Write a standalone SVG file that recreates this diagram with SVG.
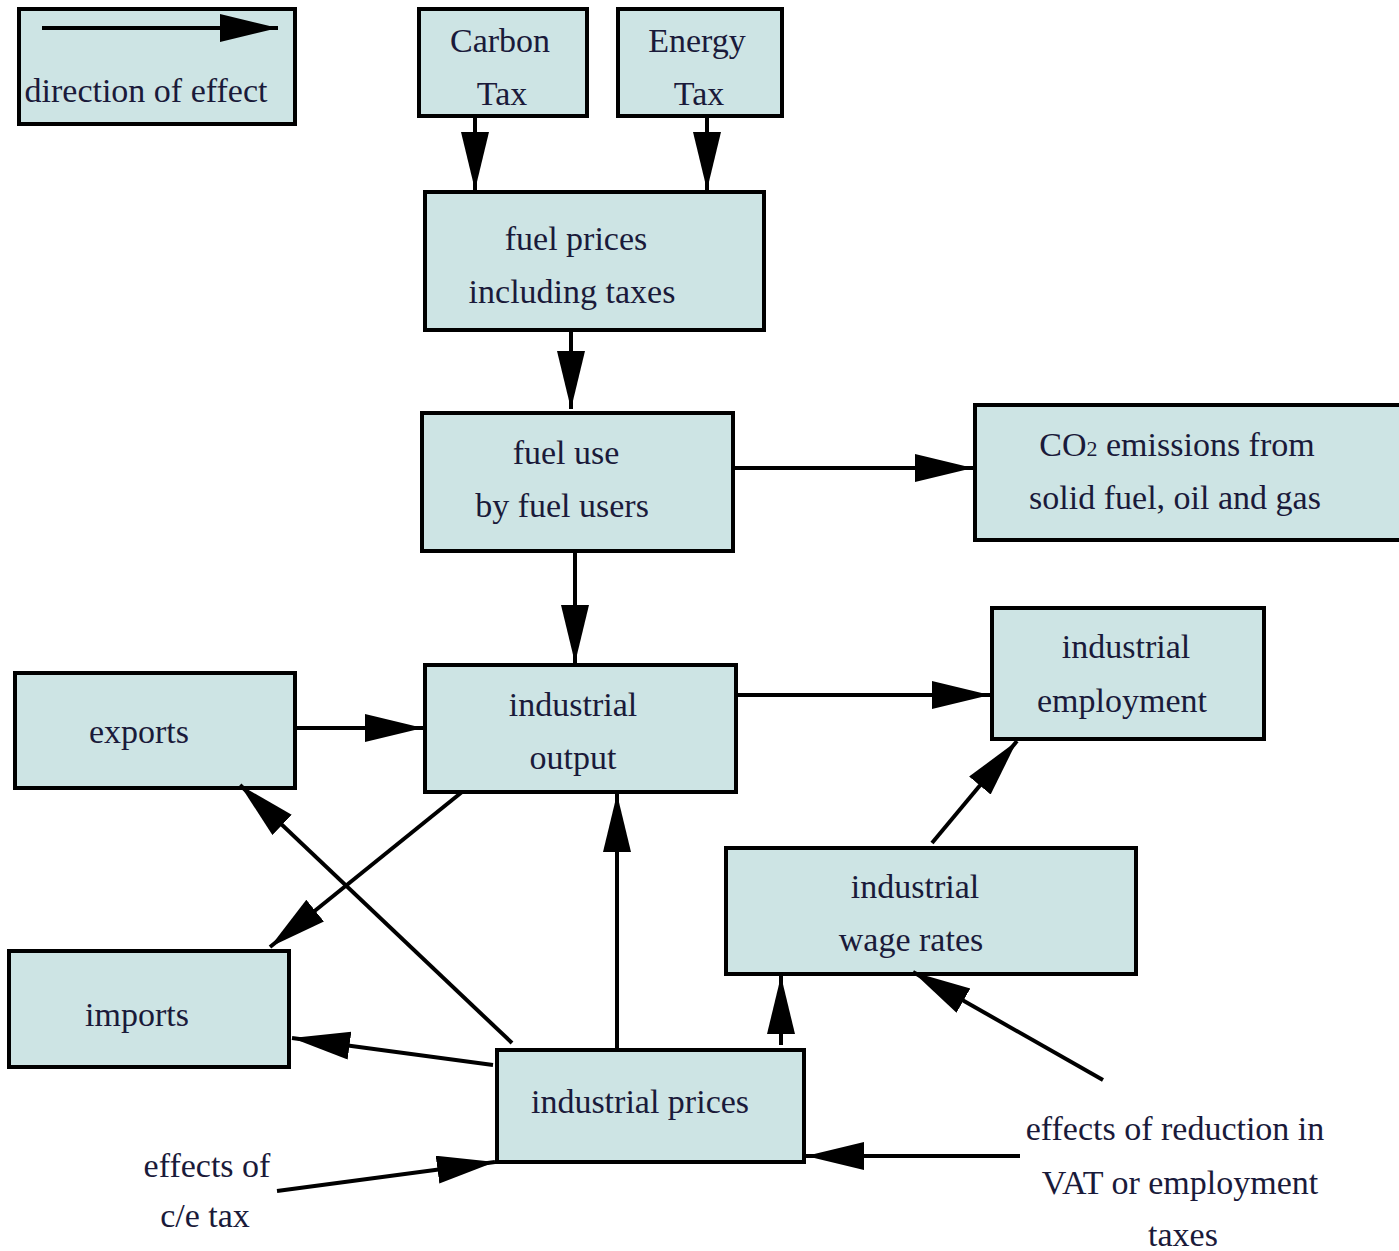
<svg xmlns="http://www.w3.org/2000/svg" width="1399" height="1251" viewBox="0 0 1399 1251">
<defs>
<style>
.box{fill:#cde4e4;stroke:#000;stroke-width:4}
.t{font-family:"Liberation Serif","Times New Roman",serif;font-size:34px;fill:#1a1a3a;text-anchor:middle}
.c{fill:none;stroke:#000;stroke-width:4;marker-end:url(#ah)}
</style>
<marker id="ah" markerUnits="userSpaceOnUse" markerWidth="60" markerHeight="30" refX="58" refY="14" orient="auto">
<path d="M0,0 L58,14 L0,28 Z" fill="#000"/>
</marker>
</defs>
<rect width="1399" height="1251" fill="#fff"/>
<g id="legend">
<rect class="box" x="19" y="9" width="276" height="115"/>
<line x1="42" y1="28" x2="278" y2="28" class="c"/>
<text class="t" x="146" y="102">direction of effect</text>
</g>
<g id="carbon-tax">
<rect class="box" x="419" y="9" width="168" height="107"/>
<text class="t" x="500" y="52">Carbon</text>
<text class="t" x="502" y="105">Tax</text>
</g>
<g id="energy-tax">
<rect class="box" x="618" y="9" width="164" height="107"/>
<text class="t" x="697" y="52">Energy</text>
<text class="t" x="699" y="105">Tax</text>
</g>
<g id="fuel-prices">
<rect class="box" x="425" y="192" width="339" height="138"/>
<text class="t" x="576" y="250">fuel prices</text>
<text class="t" x="572" y="303">including taxes</text>
</g>
<g id="fuel-use">
<rect class="box" x="422" y="413" width="311" height="138"/>
<text class="t" x="566" y="464">fuel use</text>
<text class="t" x="562" y="517">by fuel users</text>
</g>
<g id="co2">
<rect class="box" x="975" y="405" width="428" height="135"/>
<text class="t" x="1177" y="456">CO<tspan font-size="22">2</tspan> emissions from</text>
<text class="t" x="1175" y="509">solid fuel, oil and gas</text>
</g>
<g id="employment">
<rect class="box" x="992" y="608" width="272" height="131"/>
<text class="t" x="1126" y="658">industrial</text>
<text class="t" x="1122" y="712">employment</text>
</g>
<g id="exports">
<rect class="box" x="15" y="673" width="280" height="115"/>
<text class="t" x="139" y="743">exports</text>
</g>
<g id="output">
<rect class="box" x="425" y="665" width="311" height="127"/>
<text class="t" x="573" y="716">industrial</text>
<text class="t" x="573" y="769">output</text>
</g>
<g id="wage-rates">
<rect class="box" x="726" y="848" width="410" height="126"/>
<text class="t" x="915" y="898">industrial</text>
<text class="t" x="911" y="951">wage rates</text>
</g>
<g id="imports">
<rect class="box" x="9" y="951" width="280" height="116"/>
<text class="t" x="137" y="1026">imports</text>
</g>
<g id="prices">
<rect class="box" x="497" y="1050" width="307" height="112"/>
<text class="t" x="640" y="1113">industrial prices</text>
</g>
<g id="ce-tax">
<text class="t" x="207" y="1177">effects of</text>
<text class="t" x="205" y="1227">c/e tax</text>
</g>
<g id="vat">
<text class="t" x="1175" y="1140">effects of reduction in</text>
<text class="t" x="1180" y="1194">VAT or employment</text>
<text class="t" x="1183" y="1246">taxes</text>
</g>
<g id="connectors">
<line class="c" x1="475" y1="116" x2="475" y2="190"/>
<line class="c" x1="707" y1="116" x2="707" y2="190"/>
<line class="c" x1="571" y1="330" x2="571" y2="409"/>
<line class="c" x1="733" y1="468" x2="973" y2="468"/>
<line class="c" x1="575" y1="551" x2="575" y2="663"/>
<line class="c" x1="736" y1="695" x2="990" y2="695"/>
<line class="c" x1="295" y1="728" x2="423" y2="728"/>
<line class="c" x1="462" y1="792" x2="270" y2="947"/>
<line class="c" x1="512" y1="1043" x2="240" y2="785"/>
<line class="c" x1="493" y1="1065" x2="292" y2="1038"/>
<line class="c" x1="617" y1="1048" x2="617" y2="794"/>
<line class="c" x1="781" y1="1045" x2="781" y2="976"/>
<line class="c" x1="932" y1="843" x2="1017" y2="741"/>
<line class="c" x1="1103" y1="1080" x2="913" y2="972"/>
<line class="c" x1="1020" y1="1156" x2="806" y2="1156"/>
<line class="c" x1="277" y1="1191" x2="495" y2="1162"/>
</g>
</svg>
